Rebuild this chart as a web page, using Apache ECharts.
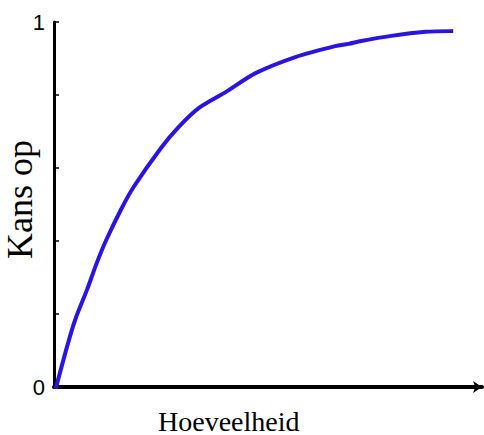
<!DOCTYPE html>
<html>
<head>
<meta charset="utf-8">
<script src="https://cdn.jsdelivr.net/npm/echarts@6/dist/echarts.min.js"></script>
<style>
  html, body { margin: 0; padding: 0; background: #fff; }
  #chart { width: 484px; height: 435px; }
</style>
</head>
<body>
<div id="chart"></div>
<script>
// hoeveelheid (relatieve eenheden 0-100) en kans (0-1)
const hoeveelheid = [0.5, 3.5, 5.1, 7.7, 10.0, 12.1, 15.6, 18.6, 25.0, 29.1, 33.8, 40.1, 47.1, 56.4, 65.7, 68.8, 71.8, 78.8, 86.7, 92.8]
const kans = [0, 0.129, 0.189, 0.266, 0.340, 0.400, 0.485, 0.548, 0.655, 0.712, 0.764, 0.808, 0.860, 0.904, 0.934, 0.940, 0.948, 0.962, 0.973, 0.975]
const yLabels = ['0', '1']

const chart = echarts.init(document.getElementById('chart'), null, { renderer: 'svg' })

const option = {
  animation: false,
  backgroundColor: '#fff',
  grid: { left: 54, right: 2, top: 22, bottom: 48 },
  xAxis: {
    type: 'value',
    min: 0,
    max: 100,
    axisLine: {
      show: true,
      lineStyle: { color: '#000', width: 4 },
      symbol: ['none', 'arrow'],
      symbolSize: [9, 9],
      symbolOffset: [0, 0]
    },
    axisTick: { show: false },
    axisLabel: { show: false },
    splitLine: { show: false }
  },
  yAxis: {
    type: 'value',
    min: 0,
    max: 1,
    interval: 0.2,
    axisLine: { show: true, lineStyle: { color: '#000', width: 3 } },
    axisTick: { show: true, inside: true, length: 5, lineStyle: { color: '#000', width: 1.5 } },
    axisLabel: {
      margin: 9,
      fontFamily: 'Liberation Sans',
      fontSize: 22,
      color: '#000',
      formatter: v => (v === 0 ? yLabels[0] : v === 1 ? yLabels[1] : '')
    },
    splitLine: { show: false }
  },
  graphic: [
    {
      type: 'text',
      left: 233 - 75,
      top: 407,
      style: { text: 'Hoeveelheid', font: '28px "Liberation Serif"', fill: '#000' }
    },
    {
      type: 'text',
      x: 2,
      y: 259,
      rotation: Math.PI / 2,
      style: { text: 'Kans op', font: '36px "Liberation Serif"', fill: '#000' }
    }
  ],
  series: [
    {
      type: 'line',
      data: hoeveelheid.map((x, i) => [x, kans[i]]),
      showSymbol: false,
      smooth: 0.3,
      lineStyle: { color: '#2a14e0', width: 4, cap: 'square' },
      z: 1
    }
  ]
}

chart.setOption(option)
</script>
</body>
</html>
